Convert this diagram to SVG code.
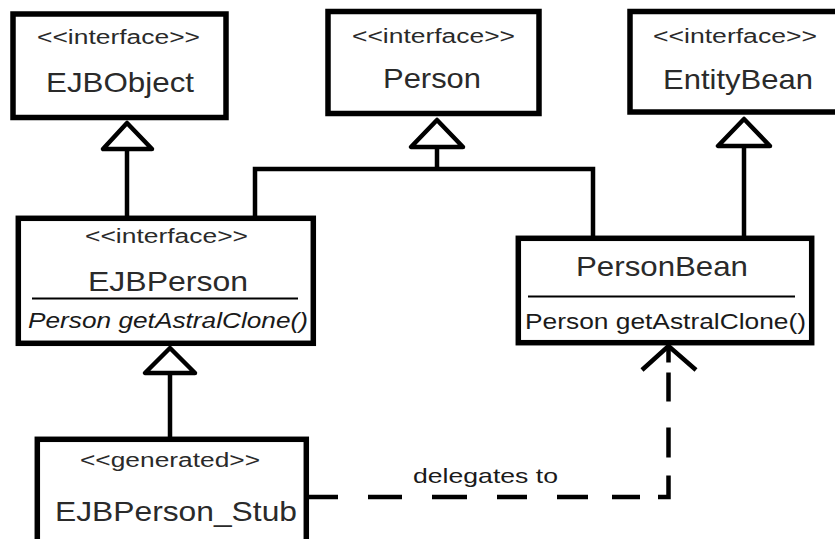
<svg xmlns="http://www.w3.org/2000/svg" width="835" height="539" viewBox="0 0 835 539">
<style>
.box{fill:#fff;stroke:#000;stroke-width:5.5}
.sep{stroke:#000;stroke-width:2}
.st{font-family:"Liberation Sans",Arial,sans-serif;font-size:20px;fill:#2a2a2a}
.nm{font-family:"Liberation Sans",Arial,sans-serif;font-size:28px;fill:#2a2a2a}
.op{font-family:"Liberation Sans",Arial,sans-serif;font-size:22px;fill:#1a1a1a}
.it{font-style:italic}
.ln{fill:none;stroke:#000;stroke-width:4.5}
.tri{fill:#fff;stroke:#000;stroke-width:4.5;stroke-linejoin:round}
.dash{fill:none;stroke:#000;stroke-width:4.5;stroke-dasharray:30 30 34 30 35 30 30 30 31 24 28 18 32 18 30 26 29 10 15}
.arr{fill:none;stroke:#000;stroke-width:4.5;stroke-linejoin:miter}
.lbl{font-family:"Liberation Sans",Arial,sans-serif;font-size:21px;fill:#1a1a1a}
</style>
<rect width="835" height="539" fill="#fff"/>
<g id="connectors">
  <line class="ln" x1="127" y1="149" x2="127" y2="216"/>
  <polygon class="tri" points="127,123 103,149 152,149"/>
  <polyline class="ln" points="255,216 255,169 593,169 593,236"/>
  <line class="ln" x1="437" y1="147" x2="437" y2="169"/>
  <polygon class="tri" points="437,120 411,147 463,147"/>
  <line class="ln" x1="744" y1="146" x2="744" y2="236"/>
  <polygon class="tri" points="744,119 718,146 770,146"/>
  <line class="ln" x1="170" y1="373" x2="170" y2="437"/>
  <polygon class="tri" points="170,348 145,373 195,373"/>
  <path class="dash" d="M308,497 L668.5,497 L668.5,347"/>
  <polyline class="arr" points="642,370 668.5,346 696,370"/>
  <text class="lbl" x="413" y="483" textLength="145" lengthAdjust="spacingAndGlyphs">delegates to</text>
</g>
<g id="EJBObject">
  <rect class="box" x="13" y="14" width="213" height="103.5"/>
  <text class="st" x="37" y="44" textLength="163" lengthAdjust="spacingAndGlyphs">&lt;&lt;interface&gt;&gt;</text>
  <text class="nm" x="46" y="92" textLength="148" lengthAdjust="spacingAndGlyphs">EJBObject</text>
</g>
<g id="Person">
  <rect class="box" x="328" y="11.5" width="211" height="102"/>
  <text class="st" x="352" y="43" textLength="163" lengthAdjust="spacingAndGlyphs">&lt;&lt;interface&gt;&gt;</text>
  <text class="nm" x="383" y="88" textLength="98" lengthAdjust="spacingAndGlyphs">Person</text>
</g>
<g id="EntityBean">
  <rect class="box" x="630" y="11.5" width="215" height="100.5"/>
  <text class="st" x="653" y="43" textLength="164" lengthAdjust="spacingAndGlyphs">&lt;&lt;interface&gt;&gt;</text>
  <text class="nm" x="663" y="89" textLength="150" lengthAdjust="spacingAndGlyphs">EntityBean</text>
</g>
<g id="EJBPerson">
  <rect class="box" x="18.3" y="218.3" width="295" height="125"/>
  <text class="st" x="85" y="243" textLength="163" lengthAdjust="spacingAndGlyphs">&lt;&lt;interface&gt;&gt;</text>
  <text class="nm" x="88" y="291" textLength="160" lengthAdjust="spacingAndGlyphs">EJBPerson</text>
  <line class="sep" x1="32" y1="298.5" x2="298" y2="298.5"/>
  <text class="op it" x="28" y="328" textLength="280" lengthAdjust="spacingAndGlyphs">Person getAstralClone()</text>
</g>
<g id="PersonBean">
  <rect class="box" x="518.3" y="238.3" width="293.4" height="104.4"/>
  <text class="nm" x="576" y="276" textLength="172" lengthAdjust="spacingAndGlyphs">PersonBean</text>
  <line class="sep" x1="528" y1="296.5" x2="795" y2="296.5"/>
  <text class="op" x="525" y="329" textLength="281" lengthAdjust="spacingAndGlyphs">Person getAstralClone()</text>
</g>
<g id="EJBPerson_Stub">
  <rect class="box" x="37.3" y="439.3" width="269" height="130"/>
  <text class="st" x="80" y="467" textLength="180" lengthAdjust="spacingAndGlyphs">&lt;&lt;generated&gt;&gt;</text>
  <text class="nm" x="55" y="521" textLength="242" lengthAdjust="spacingAndGlyphs">EJBPerson_Stub</text>
</g>
</svg>
